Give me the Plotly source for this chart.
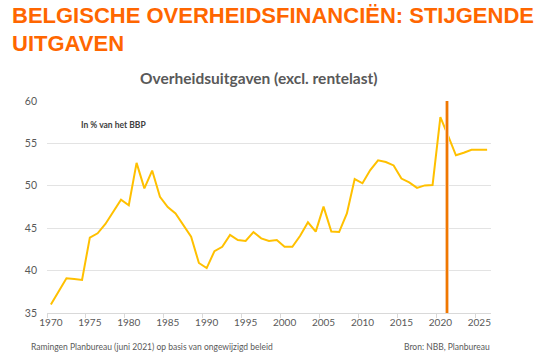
import plotly.graph_objects as go

years = list(range(1970, 2027))
uitgaven = [36.0, 37.5, 39.1, 39.0, 38.9, 43.9, 44.4, 45.5, 46.9, 48.35,
            47.7, 52.7, 49.7, 51.8, 48.7, 47.5, 46.75, 45.4, 44.0, 40.9,
            40.3, 42.3, 42.8, 44.2, 43.6, 43.5, 44.55, 43.8, 43.5, 43.6,
            42.8, 42.8, 44.1, 45.7, 44.6, 47.55, 44.6, 44.55, 46.75, 50.8,
            50.3, 51.85, 53.0, 52.8, 52.4, 50.85, 50.4, 49.75, 50.05, 50.1,
            58.1, 55.9, 53.6, 53.9, 54.25, 54.25, 54.25]
tick_years = list(range(1970, 2030, 5))
tick_labels = [str(y) for y in tick_years]
y_ticks = [35, 40, 45, 50, 55, 60]
projection_start = 2020.85

W, H = 553, 355
L, R, T, B = 47, 62, 101, 42
PW, PH = W - L - R, H - T - B

title_color = "#FF6600"
gray = "#595959"
font_c = "Lato"

fig = go.Figure()
fig.add_trace(go.Scatter(x=years, y=uitgaven, mode="lines",
                         line=dict(color="#FFC000", width=2), hoverinfo="skip",
                         showlegend=False))
fig.add_shape(type="line", x0=projection_start, x1=projection_start, xref="x",
              y0=0, y1=1, yref="paper", line=dict(color="#F7C8A0", width=4), layer="above")
fig.add_shape(type="line", x0=projection_start, x1=projection_start, xref="x",
              y0=0, y1=1, yref="paper", line=dict(color="#F07800", width=2), layer="above")

fig.update_layout(
    width=W, height=H,
    margin=dict(l=L, r=R, t=T, b=B, autoexpand=False),
    paper_bgcolor="white", plot_bgcolor="white",
    xaxis=dict(range=[1969.5, 2026.5], tickvals=tick_years, ticktext=tick_labels,
               ticks="", showgrid=False, zeroline=False,
               showline=True, linecolor="#D9D9D9", linewidth=1,
               tickfont=dict(family=font_c, size=10, color=gray),
               minor=dict(tickvals=[y - 0.5 for y in tick_years], ticks="outside",
                          ticklen=4, tickcolor="#D9D9D9", showgrid=False)),
    yaxis=dict(range=[35, 60], tickvals=y_ticks, showgrid=True, gridcolor="#E3E3E3",
               gridwidth=1, zeroline=False, ticks="", ticklabelstandoff=9,
               tickfont=dict(family=font_c, size=10.5, color=gray)),
    font=dict(family=font_c, color=gray),
)

title_font = dict(family="Liberation Sans", size=22, color=title_color)
annos = [
    ("<b>BELGISCHE OVERHEIDSFINANCIËN: STIJGENDE</b>", 11, 29, "left", "bottom", title_font),
    ("<b>UITGAVEN</b>", 11, 57, "left", "bottom", title_font),
    ("<b>Overheidsuitgaven (excl. rentelast)</b>", 259, 78, "center", "middle",
     dict(family=font_c, size=15.5, color=gray)),
    ("<b>In % van het BBP</b>", 80, 125, "left", "middle",
     dict(family=font_c, size=8.5, color="#404040")),
    ("Ramingen Planbureau (juni 2021) op basis van ongewijzigd beleid", 30, 347, "left",
     "middle", dict(family=font_c, size=8.5, color=gray)),
    ("Bron: NBB, Planbureau", 491, 347, "right", "middle",
     dict(family=font_c, size=8.5, color=gray)),
]
for txt, px, py, xa, ya, f in annos:
    fig.add_annotation(text=txt, xref="paper", yref="paper",
                       x=(px - L) / PW, y=(H - B - py) / PH, xanchor=xa,
                       yanchor=ya, showarrow=False, font=f, borderpad=0)

fig.write_html("out.html", config={"displayModeBar": False},
               post_script="document.body.style.margin='0';document.body.style.overflow='hidden';")
